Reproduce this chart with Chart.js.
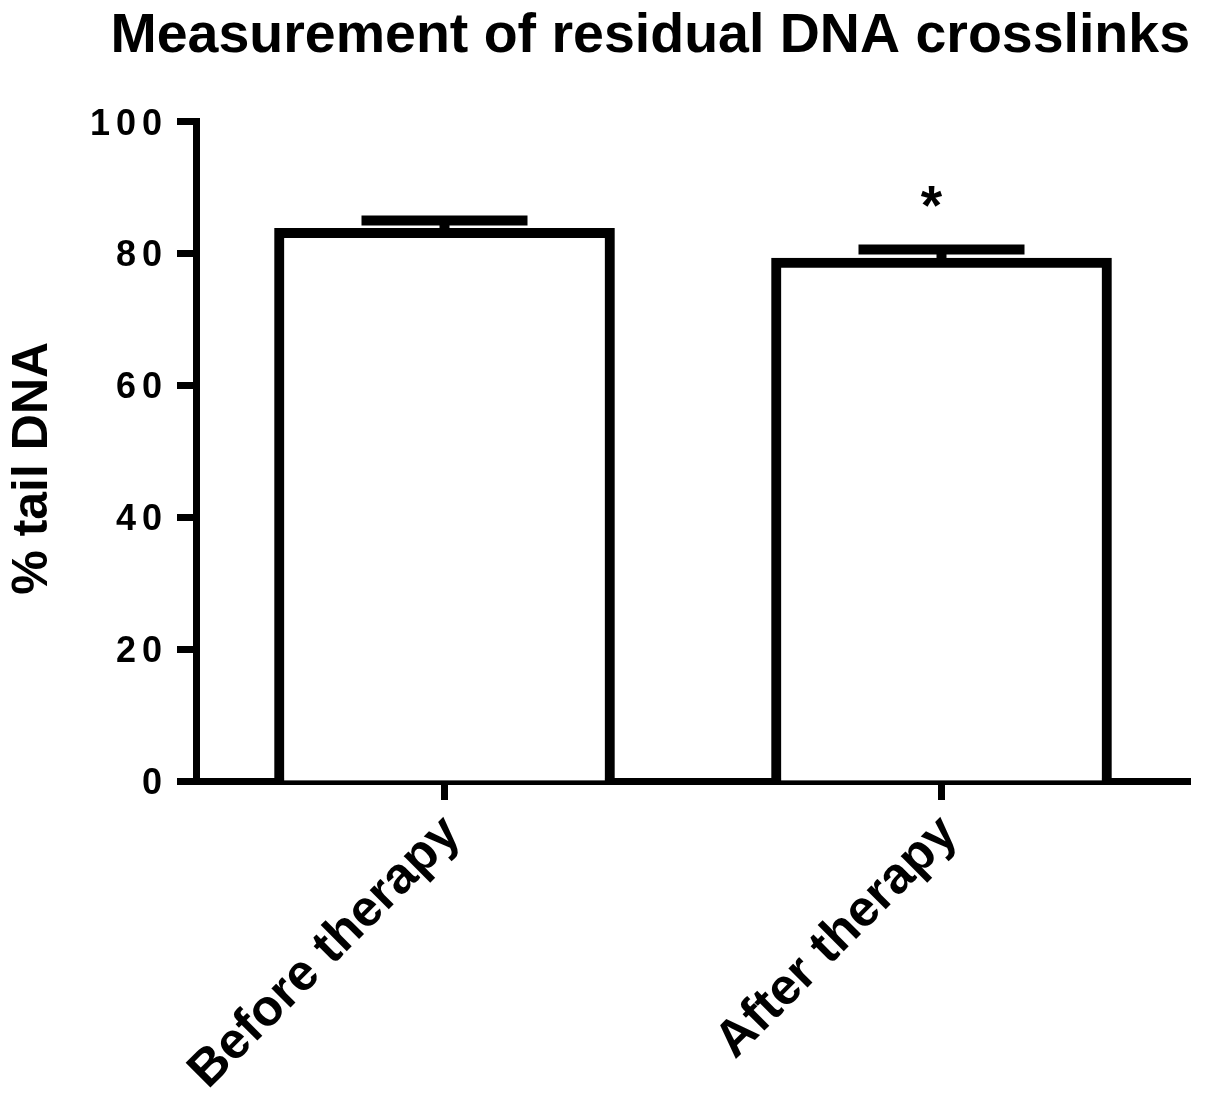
<!DOCTYPE html>
<html>
<head>
<meta charset="utf-8">
<title>Measurement of residual DNA crosslinks</title>
<script src="https://cdn.jsdelivr.net/npm/chart.js@4/dist/chart.umd.min.js"></script>
<style>
  html, body { margin: 0; padding: 0; background: #fff; }
  #wrap { width: 1205px; height: 1095px; }
</style>
</head>
<body>
<div id="wrap"><canvas id="chart"></canvas></div>
<script>
// data (mean = top of bar outline, err = distance up to cap)
const groups = ["Before therapy", "After therapy"];
const meanTail = [83.8, 79.3];
const errTail = [1.2, 1.3];
const marks = ["", "*"];
const yTicks = [0, 20, 40, 60, 80, 100];

const FONT = '"Liberation Sans", Arial, Helvetica, sans-serif';

// spaced digits on the y axis and a slightly lowered axis title, like the original
const yAxisTweaks = {
  id: 'yAxisTweaks',
  beforeDraw(chart) {
    const y = chart.scales.y;
    if (y._tweaked) return;
    const ctx = chart.ctx;
    const labels = y.drawLabels.bind(y);
    const title = y.drawTitle.bind(y);
    y.drawLabels = function (area) {
      ctx.save();
      ctx.letterSpacing = '6px';
      labels(area);
      ctx.restore();
    };
    y.drawTitle = function () {
      ctx.save();
      ctx.translate(0, 17);
      title();
      ctx.restore();
    };
    y._tweaked = true;
  }
};

// error bar caps + significance star
const errorBars = {
  id: 'errorBars',
  afterDatasetsDraw(chart) {
    const ctx = chart.ctx;
    const y = chart.scales.y;
    const meta = chart.getDatasetMeta(0);
    meta.data.forEach((bar, i) => {
      const top = y.getPixelForValue(meanTail[i]);
      const cap = y.getPixelForValue(meanTail[i] + errTail[i]);
      ctx.save();
      ctx.strokeStyle = '#000';
      ctx.lineWidth = 10;
      ctx.beginPath();
      ctx.moveTo(bar.x, top);
      ctx.lineTo(bar.x, cap);
      ctx.stroke();
      ctx.beginPath();
      ctx.moveTo(bar.x - 83, cap);
      ctx.lineTo(bar.x + 83, cap);
      ctx.stroke();
      if (marks[i]) {
        ctx.fillStyle = '#000';
        ctx.font = 'bold 55px ' + FONT;
        ctx.textAlign = 'center';
        ctx.textBaseline = 'alphabetic';
        ctx.fillText(marks[i], bar.x - 10, cap - 26);
      }
      ctx.restore();
    });
  }
};

new Chart(document.getElementById('chart'), {
  type: 'bar',
  data: {
    labels: groups,
    datasets: [{
      data: meanTail,
      backgroundColor: '#fff',
      borderColor: '#000',
      borderWidth: 10,
      borderSkipped: 'start',
      barThickness: 340
    }]
  },
  options: {
    responsive: true,
    maintainAspectRatio: false,
    animation: false,
    devicePixelRatio: 1,
    layout: { padding: { left: 0, right: 15, top: 0, bottom: 0 } },
    plugins: {
      legend: { display: false },
      tooltip: { enabled: false },
      title: {
        display: true,
        text: 'Measurement of residual DNA crosslinks',
        align: 'end',
        color: '#000',
        font: { family: FONT, size: 55.5, weight: 'bold', lineHeight: 1.2 },
        padding: { top: 3, bottom: 52 }
      }
    },
    scales: {
      x: {
        z: 1,
        offset: true,
        grid: {
          offset: false,
          drawOnChartArea: false,
          drawTicks: true,
          tickLength: 19,
          tickWidth: 7,
          color: '#000'
        },
        border: { display: true, width: 7, color: '#000' },
        ticks: {
          color: '#000',
          font: { family: FONT, size: 51, weight: 'bold' },
          minRotation: 45,
          maxRotation: 45,
          labelOffset: 8,
          padding: 4
        },
        afterFit(scale) { scale.height = 314; }
      },
      y: {
        min: 0,
        max: 100,
        afterBuildTicks(scale) { scale.ticks = yTicks.map(v => ({ value: v })); },
        grid: {
          drawOnChartArea: false,
          drawTicks: true,
          tickLength: 19,
          tickWidth: 7,
          color: '#000'
        },
        border: { display: true, width: 7, color: '#000' },
        ticks: {
          color: '#000',
          font: { family: FONT, size: 36, weight: 'bold' },
          labelOffset: 3,
          padding: 9
        },
        title: {
          display: true,
          text: '% tail DNA',
          color: '#000',
          font: { family: FONT, size: 50, weight: 'bold', lineHeight: 1.2 },
          padding: { top: 3, bottom: 0 }
        },
        afterFit(scale) { scale.width = 196; }
      }
    }
  },
  plugins: [yAxisTweaks, errorBars]
});
</script>
</body>
</html>
